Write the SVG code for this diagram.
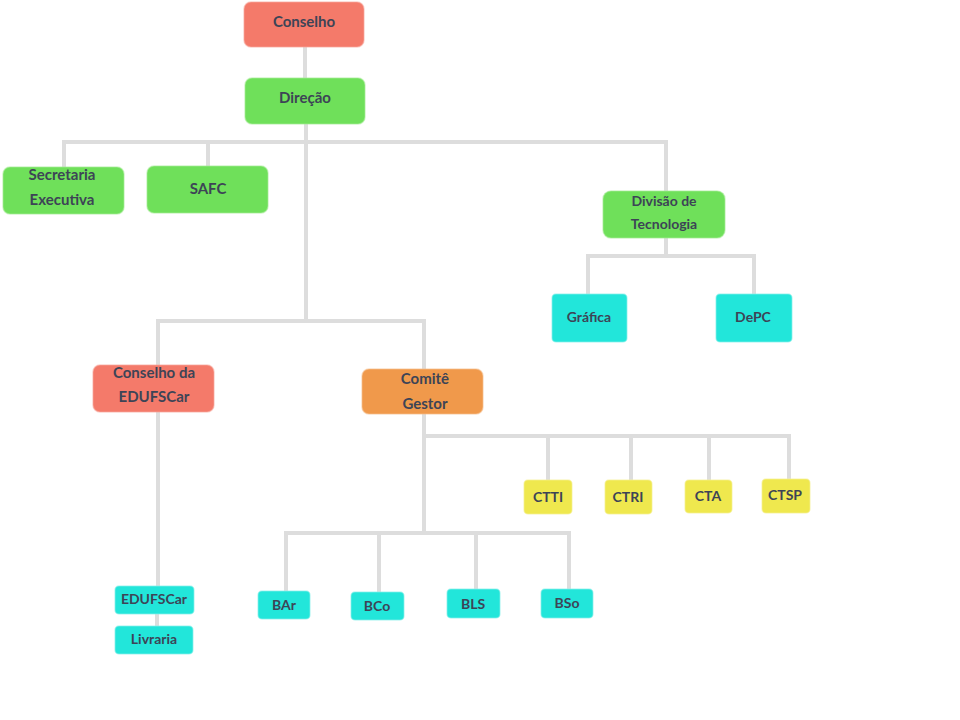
<svg xmlns="http://www.w3.org/2000/svg" width="960" height="720" viewBox="0 0 960 720">
<style>
.n{stroke-width:1.5;stroke-opacity:0.5}
.red{fill:#f47a6a;stroke:#f7a59a}
.green{fill:#6fe05a;stroke:#a3ec94}
.orange{fill:#f0994b;stroke:#f5bd8a}
.teal{fill:#22e6da;stroke:#86f0ea}
.yellow{fill:#efe84e;stroke:#f5f08f}
text{font-family:Lato,"Open Sans","Liberation Sans",sans-serif;font-weight:bold;font-size:15px;fill:#3d4456;text-anchor:middle}
.s{font-size:14px}
.c line{stroke:#dddddd;stroke-width:4}
</style>
<rect width="960" height="720" fill="#ffffff"/>
<g class="c" id="connectors">
<line x1="305" y1="46" x2="305" y2="79"/>
<line x1="306" y1="123" x2="306" y2="323"/>
<line x1="62" y1="142" x2="668" y2="142"/>
<line x1="64" y1="140" x2="64" y2="168"/>
<line x1="208" y1="140" x2="208" y2="167"/>
<line x1="666" y1="140" x2="666" y2="192"/>
<line x1="666" y1="237" x2="666" y2="256"/>
<line x1="586" y1="256" x2="756" y2="256"/>
<line x1="588" y1="254" x2="588" y2="295"/>
<line x1="754" y1="254" x2="754" y2="295"/>
<line x1="156" y1="321" x2="426" y2="321"/>
<line x1="158" y1="319" x2="158" y2="587"/>
<line x1="424" y1="319" x2="424" y2="535"/>
<line x1="424" y1="436" x2="791" y2="436"/>
<line x1="548" y1="434" x2="548" y2="481"/>
<line x1="631" y1="434" x2="631" y2="481"/>
<line x1="709" y1="434" x2="709" y2="481"/>
<line x1="789" y1="434" x2="789" y2="480"/>
<line x1="284" y1="533" x2="571" y2="533"/>
<line x1="286" y1="531" x2="286" y2="592"/>
<line x1="379" y1="531" x2="379" y2="593"/>
<line x1="476" y1="531" x2="476" y2="590"/>
<line x1="569" y1="531" x2="569" y2="590"/>
<line x1="157" y1="613" x2="157" y2="627"/>
</g>
<g id="conselho"><rect class="n red" x="244" y="2" width="120" height="45" rx="7"/><text x="304" y="27">Conselho</text></g>
<g id="direcao"><rect class="n green" x="245" y="78" width="120" height="46" rx="7"/><text x="305" y="103">Direção</text></g>
<g id="secretaria"><rect class="n green" x="3" y="167" width="121" height="47" rx="7"/><text x="62" y="180">Secretaria</text><text x="62" y="205">Executiva</text></g>
<g id="safc"><rect class="n green" x="147" y="166" width="121" height="47" rx="7"/><text x="208" y="194">SAFC</text></g>
<g id="divisao"><rect class="n green" x="603" y="191" width="122" height="47" rx="8"/><text class="s" x="664" y="206">Divisão de</text><text class="s" x="664" y="229">Tecnologia</text></g>
<g id="grafica"><rect class="n teal" x="552" y="294" width="75" height="48" rx="4"/><text class="s" x="589" y="322">Gráfica</text></g>
<g id="depc"><rect class="n teal" x="716" y="294" width="76" height="48" rx="4"/><text class="s" x="753" y="322">DePC</text></g>
<g id="conselho-edufscar"><rect class="n red" x="93" y="365" width="121" height="47" rx="7"/><text x="154" y="378">Conselho da</text><text x="154" y="402">EDUFSCar</text></g>
<g id="comite"><rect class="n orange" x="362" y="369" width="121" height="45" rx="7"/><text x="425" y="384">Comitê</text><text x="425" y="409">Gestor</text></g>
<g id="ctti"><rect class="n yellow" x="524" y="480" width="48" height="34" rx="4"/><text class="s" x="548" y="502">CTTI</text></g>
<g id="ctri"><rect class="n yellow" x="605" y="480" width="47" height="34" rx="4"/><text class="s" x="628" y="502">CTRI</text></g>
<g id="cta"><rect class="n yellow" x="685" y="480" width="47" height="33" rx="4"/><text class="s" x="708" y="501">CTA</text></g>
<g id="ctsp"><rect class="n yellow" x="762" y="479" width="48" height="34" rx="4"/><text class="s" x="785" y="500">CTSP</text></g>
<g id="bar"><rect class="n teal" x="258" y="591" width="52" height="28" rx="4"/><text class="s" x="284" y="610">BAr</text></g>
<g id="bco"><rect class="n teal" x="351" y="592" width="53" height="28" rx="4"/><text class="s" x="377" y="611">BCo</text></g>
<g id="bls"><rect class="n teal" x="447" y="589" width="53" height="29" rx="4"/><text class="s" x="473" y="609">BLS</text></g>
<g id="bso"><rect class="n teal" x="541" y="589" width="52" height="29" rx="4"/><text class="s" x="567" y="608">BSo</text></g>
<g id="edufscar"><rect class="n teal" x="115" y="586" width="79" height="28" rx="4"/><text class="s" x="154" y="604">EDUFSCar</text></g>
<g id="livraria"><rect class="n teal" x="115" y="626" width="78" height="28" rx="4"/><text class="s" x="154" y="644">Livraria</text></g>
</svg>
